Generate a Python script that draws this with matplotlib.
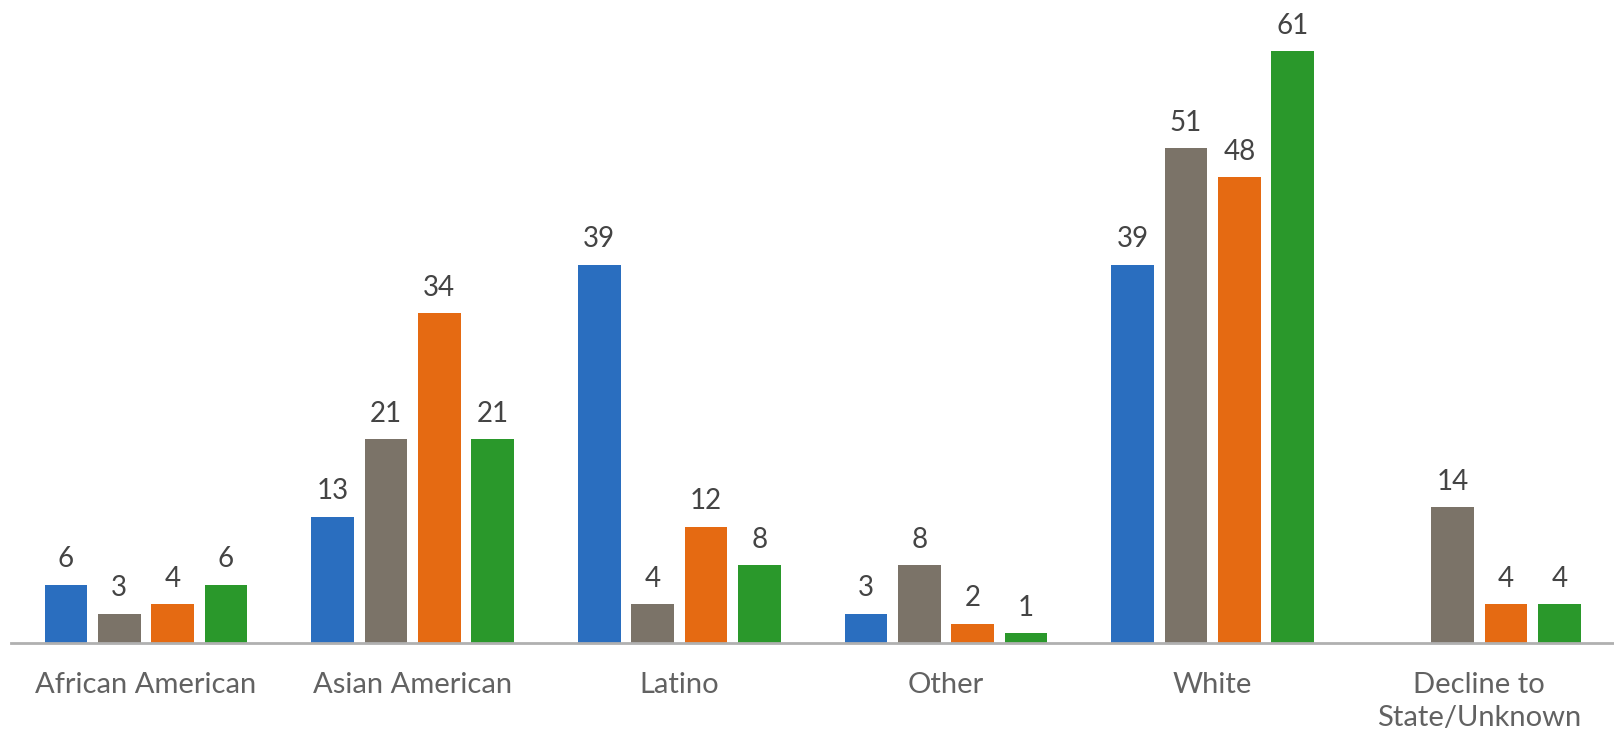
import matplotlib.pyplot as plt
import numpy as np

plt.rcParams['font.family'] = ['Lato', 'DejaVu Sans']

categories = ['African American', 'Asian American', 'Latino', 'Other', 'White',
              'Decline to\nState/Unknown']
series_a = [6, 13, 39, 3, 39, None]
series_b = [3, 21, 4, 8, 51, 14]
series_c = [4, 34, 12, 2, 48, 4]
series_d = [6, 21, 8, 1, 61, 4]

colors = ['#2a6ebf', '#7b7368', '#e56a12', '#2a982b']

fig = plt.figure(figsize=(16.14, 7.34), dpi=100)
ax = fig.add_axes([11 / 1614, 91 / 734, 1603 / 1614, 643 / 734])

x = np.arange(len(categories))
step = 0.2
width = 0.16

for i, (vals, col) in enumerate(zip([series_a, series_b, series_c, series_d], colors)):
    pos = x + (i - 1.5) * step
    for p, v in zip(pos, vals):
        if v is None:
            continue
        ax.bar(p, v, width=width, color=col)
        ax.annotate(str(v), (p, v), xytext=(0, 9), textcoords='offset points',
                    ha='center', va='bottom', fontsize=20, color='#444444')

ax.set_xlim(-0.506, 5.505)
ax.set_ylim(0, 66.3)
ax.set_xticks(x)
ax.set_xticklabels(categories, fontsize=21, color='#626262', linespacing=1.32)
ax.tick_params(axis='x', length=0, pad=21)
ax.set_yticks([])
for side in ['top', 'right', 'left']:
    ax.spines[side].set_visible(False)
ax.spines['bottom'].set_color('#b0b0b0')
ax.spines['bottom'].set_linewidth(2)

fig.savefig('out.png', dpi=100)
